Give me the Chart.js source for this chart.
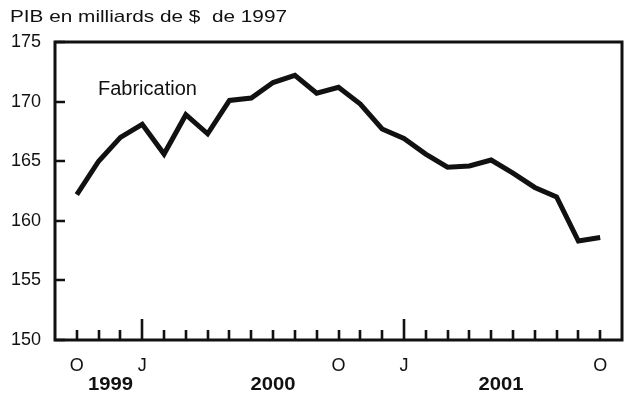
<!DOCTYPE html>
<html lang="fr">
<head>
  <meta charset="UTF-8">
  <title>PIB - Fabrication</title>
  <script src="https://cdn.jsdelivr.net/npm/chart.js@4/dist/chart.umd.min.js"></script>
  <style>
    html, body { margin: 0; padding: 0; background: #fff; }
    #wrap { width: 631px; height: 402px; }
  </style>
</head>
<body>
  <div id="wrap">
    <canvas id="chartPib" width="631" height="402"></canvas>
  </div>

  <script>
    // mois d'oct. 1999 a oct. 2001
    const months = ['O', 'N', 'D', 'J', 'F', 'M', 'A', 'M', 'J', 'J', 'A', 'S',
      'O', 'N', 'D', 'J', 'F', 'M', 'A', 'M', 'J', 'J', 'A', 'S', 'O'];
    // PIB fabrication, milliards de $ de 1997
    const values = [162.2, 165.0, 167.0, 168.1, 165.6, 168.9, 167.3, 170.1, 170.3, 171.6, 172.2, 170.7,
      171.2, 169.8, 167.7, 166.9, 165.6, 164.5, 164.6, 165.1, 164.0, 162.8, 162.0, 158.3, 158.6];
    // etiquettes affichees sous l'axe
    const shownTicks = [0, 3, 12, 15, 24];
    const januaryTicks = [3, 15];
    const yearLabels = ['1999', '2000', '2001'];
    const yearAt = [1.55, 9, 19.45];
    const yTicks = [150, 155, 160, 165, 170, 175];

    const ink = '#111';
    const font = "'Liberation Sans', Arial, sans-serif";

    // texte etire horizontalement pour coller a la largeur voulue
    function stretchText(ctx, txt, x, y, w, align) {
      const m = ctx.measureText(txt).width;
      ctx.save();
      ctx.translate(x, y);
      ctx.scale(w / m, 1);
      ctx.textAlign = align;
      ctx.fillText(txt, 0, 0);
      ctx.restore();
    }

    const framePlugin = {
      id: 'frame',
      afterDraw(chart) {
        const ctx = chart.ctx;
        const a = chart.chartArea;
        const sx = chart.scales.x, sy = chart.scales.y;
        ctx.save();
        ctx.strokeStyle = ink;
        ctx.fillStyle = ink;
        ctx.lineWidth = 3;
        ctx.strokeRect(a.left, a.top, a.right - a.left, a.bottom - a.top);

        // graduations vers l'interieur
        ctx.lineWidth = 2.6;
        ctx.beginPath();
        months.forEach((m, i) => {
          const x = Math.round(sx.getPixelForValue(i));
          ctx.moveTo(x, a.bottom);
          ctx.lineTo(x, a.bottom - (januaryTicks.includes(i) ? 21 : 10));
        });
        yTicks.forEach(v => {
          const y = Math.round(sy.getPixelForValue(v));
          ctx.moveTo(a.left, y);
          ctx.lineTo(a.left + 10, y);
        });
        ctx.stroke();

        ctx.textBaseline = 'alphabetic';
        ctx.font = '17px ' + font;
        stretchText(ctx, 'PIB en milliards de $  de 1997', 10, 22, 277, 'left');

        ctx.font = '20px ' + font;
        ctx.textAlign = 'left';
        ctx.fillText('Fabrication', 98, 95);

        ctx.font = 'bold 18px ' + font;
        yearLabels.forEach((t, i) => {
          stretchText(ctx, t, sx.getPixelForValue(yearAt[i]), 390, 45, 'center');
        });
        ctx.restore();
      }
    };

    new Chart(document.getElementById('chartPib'), {
      type: 'line',
      plugins: [framePlugin],
      data: {
        datasets: [{
          data: values.map((v, i) => ({ x: i, y: v })),
          borderColor: ink,
          borderWidth: 5,
          pointRadius: 0,
          tension: 0,
          fill: false
        }]
      },
      options: {
        responsive: false,
        animation: false,
        layout: { padding: { top: 42, right: 9, left: 0, bottom: 0 } },
        plugins: {
          legend: { display: false },
          tooltip: { enabled: false }
        },
        scales: {
          x: {
            type: 'linear',
            min: -1,
            max: 25,
            afterFit: s => { s.height = 62; },
            afterBuildTicks: s => { s.ticks = months.map((_, i) => ({ value: i })); },
            grid: { display: false, drawTicks: false, tickLength: 0 },
            border: { display: false },
            ticks: {
              autoSkip: false,
              maxRotation: 0,
              padding: 15,
              color: ink,
              font: { family: font, size: 18 },
              callback: v => shownTicks.includes(v) ? months[v] : ''
            }
          },
          y: {
            min: 150,
            max: 175,
            afterFit: s => { s.width = 55; },
            afterBuildTicks: s => { s.ticks = yTicks.map(v => ({ value: v })); },
            grid: { display: false, drawTicks: false, tickLength: 0 },
            border: { display: false },
            ticks: {
              padding: 14,
              color: ink,
              font: { family: font, size: 18 }
            }
          }
        }
      }
    });
  </script>
</body>
</html>
